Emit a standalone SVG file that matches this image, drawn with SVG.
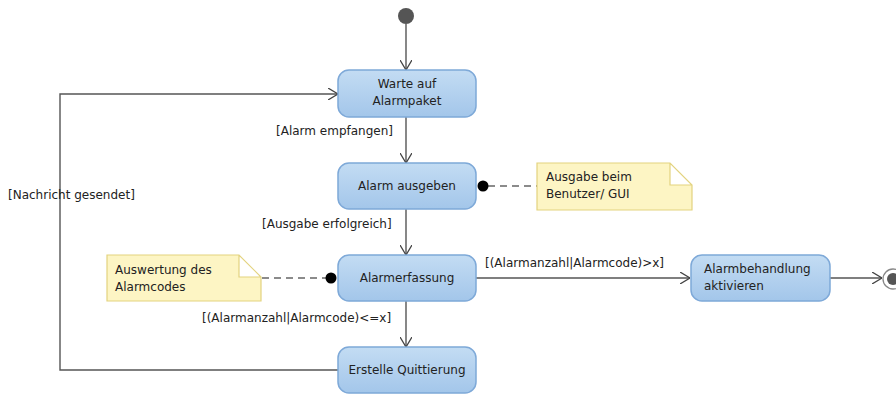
<svg xmlns="http://www.w3.org/2000/svg" width="896" height="394" viewBox="0 0 896 394">
  <defs>
    <linearGradient id="actFill" x1="0" y1="0" x2="0" y2="1">
      <stop offset="0" stop-color="#c3dcf3"/>
      <stop offset="1" stop-color="#a3c6ea"/>
    </linearGradient>
    <marker id="openArrow" viewBox="0 0 10 12" refX="10" refY="6" markerWidth="10" markerHeight="12" markerUnits="userSpaceOnUse" orient="auto">
      <path d="M0,0 L10,6 L0,12" fill="none" stroke="#444" stroke-width="1.3"/>
    </marker>
  </defs>
  <style>
    .act rect { fill: url(#actFill); stroke: #7ea9d8; stroke-width: 1.5; }
    .note path { fill: #fdf5c4; stroke: #e3d37f; stroke-width: 1.2; }
    text { font-family: "DejaVu Sans", "Liberation Sans", sans-serif; font-size: 12px; fill: #222; }
    .mid { text-anchor: middle; }
    .flow { fill: none; stroke: #555; stroke-width: 1.4; marker-end: url(#openArrow); }
    .anchor { fill: none; stroke: #666; stroke-width: 1.4; stroke-dasharray: 7 5; }
  </style>
  <rect width="896" height="394" fill="#ffffff"/>

  <!-- connectors -->
  <g id="connectors">
    <line class="flow" x1="406" y1="24" x2="406" y2="70"/>
    <line class="flow" x1="406" y1="117" x2="406" y2="163"/>
    <line class="flow" x1="406" y1="209" x2="406" y2="255"/>
    <line class="flow" x1="406" y1="301" x2="406" y2="347"/>
    <line class="flow" x1="476" y1="278" x2="690" y2="278"/>
    <line class="flow" x1="830" y1="278" x2="882" y2="278"/>
    <polyline class="flow" points="338,370 60,370 60,94 338,94"/>
    <line class="anchor" x1="488" y1="186" x2="537" y2="186"/>
    <line class="anchor" x1="262" y1="278" x2="326" y2="278"/>
    <circle cx="483" cy="186" r="5.5" fill="#000"/>
    <circle cx="331" cy="278" r="5.5" fill="#000"/>
    <text x="276" y="135">[Alarm empfangen]</text>
    <text x="262" y="228">[Ausgabe erfolgreich]</text>
    <text x="202" y="322">[(Alarmanzahl|Alarmcode)&lt;=x]</text>
    <text x="485" y="267">[(Alarmanzahl|Alarmcode)&gt;x]</text>
    <text x="8" y="199">[Nachricht gesendet]</text>
  </g>

  <!-- initial node -->
  <g id="start">
    <circle cx="406" cy="16" r="8" fill="#555"/>
  </g>

  <!-- final node -->
  <g id="end">
    <circle cx="893" cy="279" r="10" fill="#fff" stroke="#888" stroke-width="1.3"/>
    <circle cx="893" cy="279" r="6" fill="#555"/>
  </g>

  <g id="warte" class="act">
    <rect x="338" y="70" width="138" height="47" rx="11"/>
    <text class="mid" x="407" y="88">Warte auf</text>
    <text class="mid" x="407" y="105">Alarmpaket</text>
  </g>

  <g id="ausgeben" class="act">
    <rect x="338" y="163" width="138" height="46" rx="11"/>
    <text class="mid" x="407" y="190">Alarm ausgeben</text>
  </g>

  <g id="erfassung" class="act">
    <rect x="338" y="255" width="138" height="46" rx="11"/>
    <text class="mid" x="407" y="282">Alarmerfassung</text>
  </g>

  <g id="quittierung" class="act">
    <rect x="338" y="347" width="138" height="46" rx="11"/>
    <text class="mid" x="407" y="374">Erstelle Quittierung</text>
  </g>

  <g id="behandlung" class="act">
    <rect x="691" y="255" width="139" height="46" rx="11"/>
    <text x="704" y="273">Alarmbehandlung</text>
    <text x="704" y="290">aktivieren</text>
  </g>

  <g id="note-gui" class="note">
    <path d="M537,163 H670 L692,185 V210 H537 Z M670,163 V185 H692"/>
    <text x="546" y="181">Ausgabe beim</text>
    <text x="546" y="198">Benutzer/ GUI</text>
  </g>

  <g id="note-codes" class="note">
    <path d="M107,255 H239 L261,277 V301 H107 Z M239,255 V277 H261"/>
    <text x="115" y="274">Auswertung des</text>
    <text x="115" y="291">Alarmcodes</text>
  </g>
</svg>
